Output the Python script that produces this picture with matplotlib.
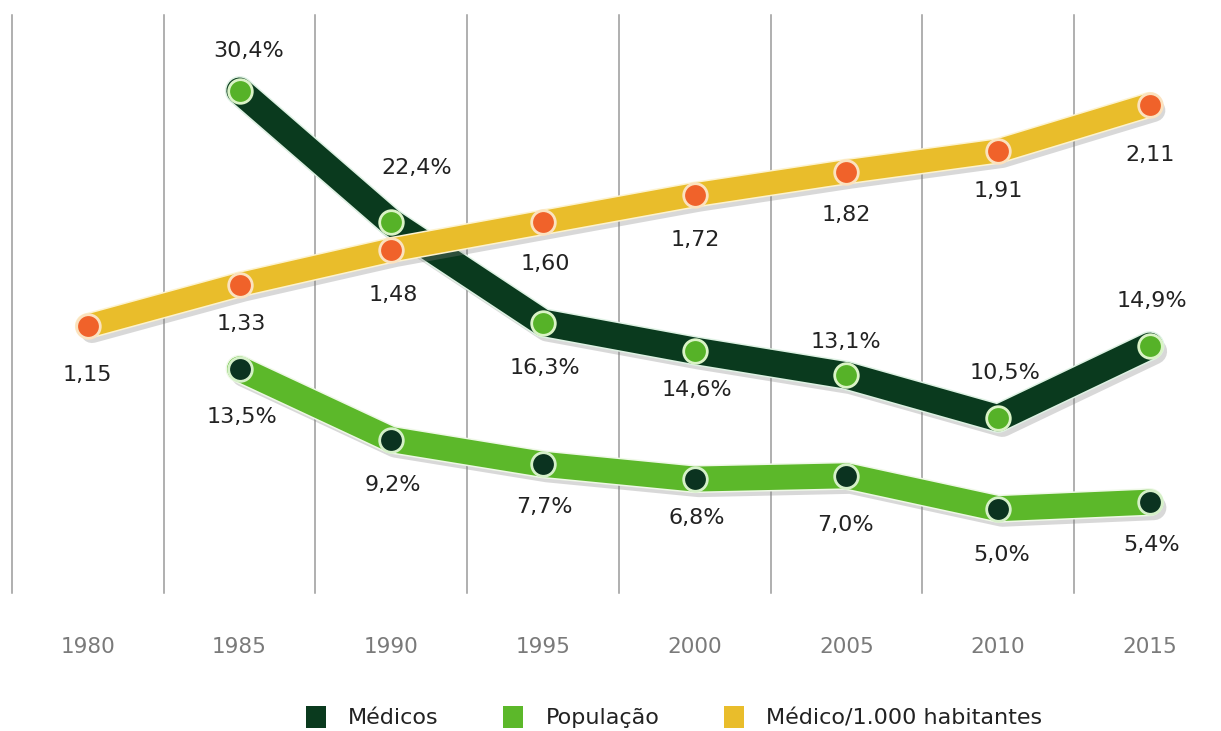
import matplotlib
matplotlib.use("Agg")
import matplotlib.pyplot as plt
import matplotlib.patheffects as pe
from matplotlib.patches import Patch

# ---------------- data ----------------
years = ["1980", "1985", "1990", "1995", "2000", "2005", "2010", "2015"]
medicos_years = ["1985", "1990", "1995", "2000", "2005", "2010", "2015"]
medicos = [30.4, 22.4, 16.3, 14.6, 13.1, 10.5, 14.9]
populacao = [13.5, 9.2, 7.7, 6.8, 7.0, 5.0, 5.4]
por_mil = [1.15, 1.33, 1.48, 1.60, 1.72, 1.82, 1.91, 2.11]
series_names = ["Médicos", "População", "Médico/1.000 habitantes"]

def fmt_pct(v):
    return f"{v:.1f}".replace(".", ",") + "%"

def fmt_num(v):
    return f"{v:.2f}".replace(".", ",")

# ---------------- layout ----------------
W, H, DPI = 1221, 731, 100
c_dark = "#0a3a1e"
c_light = "#5cb82a"
c_yellow = "#e9bd2b"
c_orange = "#f0622a"
c_text = "#222222"

# label offsets in pixels (dx, dy-up)
off_med = [(9, 40), (25, 54), (2, -45), (2, -39), (0, 33), (7, 45), (2, 45)]
off_pop = [(2, -48), (2, -45), (1, -43), (2, -39), (-1, -49), (4, -46), (2, -43)]
off_mil = [(-1, -49), (2, -39), (2, -45), (2, -42), (1, -45), (0, -43), (0, -40), (0, -50)]

fig = plt.figure(figsize=(W / DPI, H / DPI), dpi=DPI)
fig.patch.set_facecolor("white")
ax = fig.add_axes([12 / W, 140 / H, 1209 / W, 576 / H])
ax2 = fig.add_axes([12 / W, 140 / H, 1209 / W, 576 / H])
ax2.set_visible(False)

xpos = {y: i for i, y in enumerate(years)}
x_all = [xpos[y] for y in years]
x_med = [xpos[y] for y in medicos_years]

xmax = -0.5 + 1209 / 151.7
for a in (ax, ax2):
    a.set_xlim(-0.5, xmax)
ax.set_ylim(0, 35)
ax2.set_ylim(0, 2.5)

for s in ax.spines.values():
    s.set_visible(False)
ax.set_yticks([])
ax.set_xticks(x_all, years)
ax.tick_params(axis="x", length=0, pad=33, labelsize=15.5, labelcolor="#7a7a7a")

# vertical grid lines between categories
for i in range(len(years)):
    ax.plot([i - 0.5, i - 0.5], [-0.1, 35], color="#9a9a9a", lw=1.1,
            zorder=1, clip_on=False)

shadow = pe.SimpleLineShadow(offset=(3, -4), shadow_color="#808080", alpha=0.3)

def band(xs, ys, color, lw, outline, z, transform):
    ax.plot(xs, ys, color=color, lw=lw, solid_capstyle="round",
            solid_joinstyle="round", zorder=z, transform=transform,
            path_effects=[shadow, pe.Stroke(linewidth=lw + 2.2, foreground=outline),
                          pe.Normal()])

band(x_med, medicos, c_dark, 19, "#dff2e4", 3, ax.transData)
band(x_med, populacao, c_light, 18, "#eef8e6", 3, ax.transData)
band(x_all, por_mil, c_yellow, 16.5, "#fdf3cf", 4, ax2.transData)

ax.plot(x_med, medicos, ls="none", marker="o", ms=17, mfc="#56b228",
        mec="#daf3c6", mew=2, zorder=6)
ax.plot(x_med, populacao, ls="none", marker="o", ms=17, mfc="#0b3320",
        mec="#d5f0c8", mew=2, zorder=6)
ax.plot(x_all, por_mil, ls="none", marker="o", ms=17, mfc=c_orange,
        mec="#fbe2bf", mew=2, zorder=6, transform=ax2.transData)

for x, v, o in zip(x_med, medicos, off_med):
    ax.annotate(fmt_pct(v), (x, v), xytext=o, textcoords="offset pixels",
                ha="center", va="center", fontsize=16, color=c_text, zorder=8)
for x, v, o in zip(x_med, populacao, off_pop):
    ax.annotate(fmt_pct(v), (x, v), xytext=o, textcoords="offset pixels",
                ha="center", va="center", fontsize=16, color=c_text, zorder=8)
for x, v, o in zip(x_all, por_mil, off_mil):
    ax.annotate(fmt_num(v), (x, v), xycoords=ax2.transData, xytext=o,
                textcoords="offset pixels", ha="center", va="center",
                fontsize=16, color=c_text, zorder=8)

handles = [Patch(facecolor=c_dark), Patch(facecolor=c_light), Patch(facecolor=c_yellow)]
fig.legend(handles, series_names, ncol=3, loc="center",
           bbox_to_anchor=(674 / W, 14 / H), frameon=False, fontsize=16,
           handlelength=0.9, handleheight=1.15, handletextpad=1.0,
           columnspacing=2.9, labelcolor=c_text, borderpad=0.2)

fig.savefig("out.png", dpi=DPI, facecolor="white")
